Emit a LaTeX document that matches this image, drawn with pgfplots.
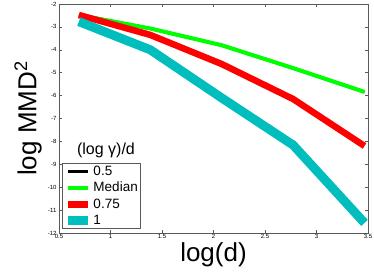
\documentclass[border=0pt]{standalone}
\usepackage{fontspec}
\setmainfont{Liberation Sans}
\usepackage{pgfplots}
\pgfplotsset{compat=1.18}
\definecolor{mcyan}{RGB}{0,190,190}
\begin{document}
\begin{tikzpicture}
\path[use as bounding box] (-59pt,-47pt) rectangle (315pt,233pt);
\begin{axis}[
  at={(0pt,0pt)}, anchor=south west,
  scale only axis, width=309pt, height=229pt,
  xmin=0.5, xmax=3.5, ymin=-12, ymax=-2,
  xtick={0.5,1,...,3.5}, ytick={-12,-11,...,-2},
  tick align=inside, major tick length=3pt,
  axis line style={black!65}, every tick/.style={black!65},
  /pgf/number format/assume math mode=true,
  tick label style={font=\fontsize{6}{6}\selectfont},
  xticklabel style={yshift=2pt},
  yticklabel style={xshift=1pt},
  xlabel={log(d)}, ylabel={log MMD\textsuperscript{2}},
  label style={font=\fontsize{26}{28}\selectfont},
  xlabel style={at={(axis description cs:0.5,-0.095)}, anchor=center},
  ylabel style={at={(axis description cs:-0.1,0.5)}, anchor=center},
  legend style={at={(axis description cs:0.0097,0.305)}, anchor=north west,
    font=\fontsize{13.5}{13.5}\selectfont, draw=black!65, inner sep=1.5pt, row sep=4pt,
    nodes={inner sep=0.8pt}, cells={anchor=west}},
  legend cell align=left,
  legend image code/.code={\draw[#1] (0pt,0pt) -- (20pt,0pt);},
]
\addplot[black, line width=3pt] coordinates {(0.693,-2.48) (1.386,-3.07) (2.079,-3.80) (2.773,-4.80) (3.466,-5.84)};
\addlegendentry{0.5}
\addplot[green, line width=4pt] coordinates {(0.693,-2.48) (1.386,-3.07) (2.079,-3.80) (2.773,-4.80) (3.466,-5.84)};
\addlegendentry{Median}
\addplot[red, line width=6.5pt] coordinates {(0.693,-2.48) (1.386,-3.35) (2.079,-4.62) (2.773,-6.15) (3.466,-8.2)};
\addlegendentry{0.75}
\addplot[mcyan, line width=9pt] coordinates {(0.693,-2.77) (1.386,-4.0) (2.079,-6.1) (2.773,-8.16) (3.466,-11.56)};
\addlegendentry{1}
\node[font=\fontsize{16}{16}\selectfont] at (axis cs:0.956,-8.38) {(log γ)/d};
\end{axis}
\end{tikzpicture}
\end{document}
